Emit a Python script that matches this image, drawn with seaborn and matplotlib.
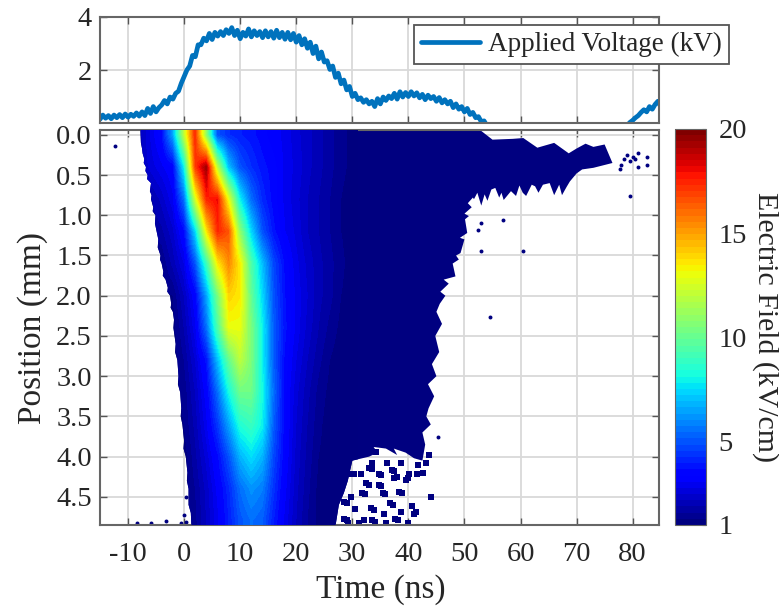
import numpy as np
import pandas as pd
import seaborn as sns
from matplotlib import pyplot as plt

# applied voltage trace (every 0.5 ns from -15 to 54, then the last stretch)
volt_time = [-15, -14.5, -14, -13.5, -13, -12.5, -12, -11.5, -11, -10.5, -10, -9.5, -9, -8.5, -8, -7.5, -7, -6.5,
             -6, -5.5, -5, -4.5, -4, -3.5, -3, -2.5, -2, -1.5, -1, -0.5, 0, 0.5, 1, 1.5, 2, 2.5, 3, 3.5, 4, 4.5,
             5, 5.5, 6, 6.5, 7, 7.5, 8, 8.5, 9, 9.5, 10, 10.5, 11, 11.5, 12, 12.5, 13, 13.5, 14, 14.5, 15, 15.5,
             16, 16.5, 17, 17.5, 18, 18.5, 19, 19.5, 20, 20.5, 21, 21.5, 22, 22.5, 23, 23.5, 24, 24.5, 25, 25.5,
             26, 26.5, 27, 27.5, 28, 28.5, 29, 29.5, 30, 30.5, 31, 31.5, 32, 32.5, 33, 33.5, 34, 34.5, 35, 35.5,
             36, 36.5, 37, 37.5, 38, 38.5, 39, 39.5, 40, 40.5, 41, 41.5, 42, 42.5, 43, 43.5, 44, 44.5, 45, 45.5,
             46, 46.5, 47, 47.5, 48, 48.5, 49, 49.5, 50, 50.5, 51, 51.5, 52, 52.5, 53, 53.5, 54,
             79, 79.5, 80, 80.5, 81, 81.5, 82, 82.5, 83, 83.5, 84, 84.5, 85]
volt_kv = [0.14, 0.3, 0.18, 0.28, 0.16, 0.3, 0.2, 0.32, 0.2, 0.34, 0.22, 0.33, 0.25, 0.38, 0.26, 0.42, 0.28, 0.55,
           0.36, 0.62, 0.42, 0.58, 0.68, 0.85, 0.72, 0.98, 0.9, 1.12, 1.2, 1.5, 1.75, 2.0, 2.15, 2.55, 2.5, 2.95,
           2.95, 3.2, 3.1, 3.38, 3.15, 3.42, 3.28, 3.45, 3.3, 3.52, 3.38, 3.6, 3.3, 3.5, 3.18, 3.42, 3.28, 3.55,
           3.25, 3.48, 3.3, 3.45, 3.22, 3.48, 3.25, 3.45, 3.2, 3.5, 3.22, 3.42, 3.16, 3.42, 3.14, 3.38, 3.05, 3.3,
           2.95, 3.18, 2.82, 3.05, 2.62, 2.9, 2.42, 2.68, 2.3, 2.35, 2.02, 2.15, 1.72, 1.88, 1.48, 1.62, 1.25, 1.38,
           1.0, 1.12, 0.88, 0.95, 0.78, 0.88, 0.72, 0.82, 0.62, 0.92, 0.72, 0.98, 0.85, 1.02, 0.92, 1.12, 0.9, 1.18,
           0.98, 1.15, 1.0, 1.18, 1.02, 1.14, 0.95, 1.08, 0.88, 1.05, 0.92, 1.0, 0.82, 0.96, 0.76, 0.88, 0.72, 0.82,
           0.58, 0.72, 0.52, 0.62, 0.42, 0.55, 0.32, 0.4, 0.2, 0.24, 0.05, 0.08, -0.1,
           -0.1, 0.02, 0.1, 0.2, 0.28, 0.4, 0.5, 0.42, 0.62, 0.52, 0.7, 0.82, 0.62]

# field map values (kV/cm), rows are positions, columns are times
field_time = [-10, -8, -6, -4, -2, 0, 2, 4, 6, 8, 10, 12, 14, 16, 18, 20, 22, 24, 26, 28, 30]
field_pos = [0.0, 0.4, 0.8, 1.2, 1.6, 2.0, 2.4, 2.8, 3.2, 3.6, 4.0, 4.4, 4.8]
field_p00 = [2.0, 2.0, 2.8, 3.6, 6.5, 12.0, 17.5, 11.0, 5.0, 4.3, 4.0, 3.8, 3.5, 3.2, 3.0, 2.6, 2.3, 2.0, 1.7, 1.4, 1.2]
field_p04 = [2.0, 2.0, 2.6, 3.0, 3.4, 8.0, 17.0, 19.5, 12.0, 7.0, 5.0, 4.3, 3.8, 3.5, 3.0, 2.7, 2.3, 2.0, 1.7, 1.4, 1.2]
field_p08 = [1.8, 1.8, 1.8, 2.3, 3.0, 5.5, 12.5, 17.5, 18.0, 13.0, 8.0, 5.5, 4.2, 3.5, 3.0, 2.6, 2.2, 1.9, 1.6, 1.3, 1.1]
field_p12 = [1.6, 1.6, 1.6, 1.8, 2.4, 3.6, 7.5, 13.5, 17.5, 16.5, 11.0, 7.5, 5.0, 3.8, 3.1, 2.7, 2.2, 1.9, 1.6, 1.3, 1.1]
field_p16 = [1.3, 1.3, 1.3, 1.3, 2.0, 2.8, 5.0, 9.0, 13.5, 15.5, 13.5, 9.5, 7.0, 4.8, 3.6, 2.9, 2.4, 2.0, 1.7, 1.4, 1.1]
field_p20 = [1.2, 1.2, 1.2, 1.2, 1.3, 2.2, 3.4, 6.5, 10.5, 14.0, 13.5, 10.0, 7.5, 5.0, 3.7, 3.0, 2.5, 2.0, 1.7, 1.3, 1.1]
field_p24 = [1.1, 1.1, 1.1, 1.1, 1.1, 1.9, 3.0, 5.5, 9.5, 13.0, 13.0, 10.5, 8.0, 5.2, 3.8, 3.0, 2.4, 1.9, 1.5, 1.2, 1.1]
field_p28 = [1.1, 1.1, 1.1, 1.1, 1.1, 1.6, 2.5, 3.8, 7.0, 10.0, 12.0, 10.5, 8.0, 5.2, 3.6, 2.8, 2.2, 1.7, 1.3, 1.1, 1.0]
field_p32 = [1.1, 1.1, 1.1, 1.1, 1.1, 1.4, 2.2, 3.3, 5.5, 8.2, 10.2, 10.2, 8.2, 5.5, 3.5, 2.6, 2.0, 1.5, 1.2, 1.0, 1.0]
field_p36 = [1.1, 1.1, 1.1, 1.1, 1.1, 1.3, 2.0, 3.0, 4.5, 6.5, 8.5, 9.0, 8.0, 5.2, 3.5, 2.5, 1.9, 1.4, 1.1, 1.0, 1.0]
field_p40 = [1.1, 1.1, 1.1, 1.1, 1.1, 1.1, 1.8, 2.6, 3.6, 5.0, 6.8, 7.6, 6.8, 4.8, 3.4, 2.4, 1.8, 1.3, 1.1, 1.0, 1.0]
field_p44 = [1.1, 1.1, 1.1, 1.1, 1.1, 1.1, 1.6, 2.3, 3.2, 4.2, 5.5, 6.2, 5.8, 4.4, 3.2, 2.3, 1.7, 1.2, 1.05, 1.0, 1.0]
field_p48 = [1.1, 1.1, 1.1, 1.1, 1.1, 1.1, 1.5, 2.2, 3.0, 4.0, 5.0, 5.5, 5.2, 4.0, 3.0, 2.2, 1.6, 1.2, 1.0, 1.0, 1.0]

# outline of the measured region (time, position)
edge_time = [-7.8, -7.7, -7.5, -7.4, -7.1, -7.2, -6.8, -6.9, -6.5, -6.6, -5.9, -6.1, -5.8, -5.9, -5.5, -5.6, -5.1,
             -5.2, -4.9, -4.6, -4.7, -4.2, -4.3, -4.0, -3.7, -3.8, -3.3, -2.9, -3.0, -2.5, -2.3, -2.4, -2.0, -1.8,
             -1.9, -1.5, -1.6, -1.2, -1.0, -1.1, -0.7, -0.5, -0.6, -0.3, 0.0, -0.1, 0.3, 0.6, 0.5, 0.8, 0.8, 1.2,
             1.3,
             27.0, 27.6, 28.5, 29.2, 30.0, 33.0, 34.5, 33.8, 36.0, 38.0, 37.4, 39.5, 41.0, 42.5, 43.0, 42.5, 44.0,
             43.2, 43.6, 44.6, 43.5, 45.0, 44.2, 45.5, 44.8, 46.0, 45.0, 45.6, 46.6, 45.7, 47.2, 46.3, 48.4, 47.9,
             49.0, 48.5, 49.3, 50.0, 49.2, 50.5, 50.1, 50.8, 50.0, 51.3, 50.6, 51.5, 51.7, 52.3, 53.0, 53.6, 54.1,
             54.8, 55.5, 56.2, 56.6, 57.0, 58.3, 59.2, 59.8, 60.4, 61.0, 62.0, 62.6, 63.2, 64.0, 65.2, 66.0, 66.9,
             67.4, 68.2, 68.8, 70.0, 71.0, 73.0, 76.4, 75.0, 73.0, 71.6,
             70.0, 68.6, 66.0, 63.0, 60.5, 58.6, 55.0, 52.6, -7.8]
edge_pos = [-0.07, 0.1, 0.17, 0.23, 0.3, 0.35, 0.4, 0.45, 0.5, 0.55, 0.6, 0.7, 0.75, 0.8, 0.9, 0.95, 1.0,
            1.1, 1.2, 1.3, 1.4, 1.5, 1.55, 1.6, 1.7, 1.75, 1.8, 1.9, 1.95, 2.0, 2.1, 2.15, 2.2, 2.3,
            2.4, 2.6, 2.7, 2.8, 3.0, 3.1, 3.2, 3.4, 3.5, 3.6, 3.8, 3.9, 4.0, 4.2, 4.3, 4.4, 4.6, 4.7,
            4.86,
            4.86, 4.6, 4.45, 4.3, 4.05, 4.0, 3.95, 3.88, 3.9, 3.98, 3.9, 3.95, 4.02, 4.05, 3.85, 3.7, 3.6,
            3.5, 3.4, 3.25, 3.1, 3.0, 2.85, 2.7, 2.5, 2.35, 2.2, 2.1, 2.0, 1.95, 1.85, 1.8, 1.76, 1.6,
            1.55, 1.5, 1.47, 1.3, 1.28, 1.22, 1.05, 1.01, 0.98, 0.9, 0.85, 0.78, 0.8, 0.72, 0.88, 0.74, 0.82,
            0.68, 0.66, 0.78, 0.72, 0.81, 0.7, 0.76, 0.63, 0.72, 0.76, 0.62, 0.64, 0.72, 0.62, 0.6, 0.75, 0.62,
            0.75, 0.65, 0.58, 0.48, 0.43, 0.41, 0.35, 0.12, 0.15, 0.11,
            0.17, 0.23, 0.1, 0.16, 0.04, 0.05, 0.06, -0.07, -0.07]

# isolated pixels outside the main region
speck_time = [-12.3, 79.5, 60.5, 54.6, 56.9, 52.9, 52.4, 53.0, 78.0, 78.5, 79.0, 80.0, 81.0, 82.5, 82.5, 81.0, 79.5,
              80.5, 77.8, 45.2, 0.0, 0.3, -0.6, -5.9, -3.2, -8.4, 0.4]
speck_pos = [0.14, 0.755, 1.44, 2.27, 1.06, 1.09, 1.18, 1.45, 0.38, 0.3, 0.25, 0.27, 0.22, 0.28, 0.38, 0.4, 0.32,
             0.3, 0.42, 3.75, 4.72, 4.81, 4.82, 4.83, 4.8, 4.82, 4.5]

# the patchy stretch at the bottom
patch_time = [33.0, 33.5, 34.8, 35.2, 37.1, 37.5, 32.4, 32.9, 34.8, 35.2, 37.4, 37.9, 31.8, 32.2, 35.4, 35.9, 38.3,
              38.8, 40.1, 41.6, 39.5, 39.9, 36.8, 37.2, 33.3, 33.8, 35.7, 41.0, 41.4, 33.6, 34.1, 37.7, 38.1, 28.5,
              29.0, 28.5, 29.0, 29.4, 30.3, 40.7, 38.6, 32.1, 31.5, 34.2, 33.6, 36.2, 38.6, 43.1, 41.8, 43.7, 29.8,
              29.3, 30.4, 31.2, 36.0, 40.0, 42.6, 44.0]
patch_pos = [4.146, 4.16, 4.21, 4.23, 4.166, 4.18, 4.33, 4.35, 4.35, 4.37, 4.27, 4.25, 4.457, 4.47, 4.457, 4.47, 4.436,
             4.45, 4.21, 4.21, 4.29, 4.27, 4.58, 4.6, 4.64, 4.66, 4.71, 4.71, 4.69, 4.79, 4.81, 4.77, 4.79, 4.56,
             4.58, 4.77, 4.79, 4.21, 4.21, 4.62, 4.685, 4.79, 4.21, 3.94, 4.08, 4.08, 4.08, 4.08, 4.1, 3.98, 4.5,
             4.82, 4.65, 4.82, 4.82, 4.82, 4.2, 4.5]

tick_time = [-10, 0, 10, 20, 30, 40, 50, 60, 70, 80]
tick_pos = [0.0, 0.5, 1.0, 1.5, 2.0, 2.5, 3.0, 3.5, 4.0, 4.5]
tick_field = [1, 5, 10, 15, 20]

sns.set_style("ticks")
plt.rcParams['font.family'] = ['Liberation Serif', 'DejaVu Serif']
plt.rcParams['axes.unicode_minus'] = False
plt.rcParams['text.color'] = '#262626'
plt.rcParams['axes.labelcolor'] = '#262626'
plt.rcParams['xtick.color'] = '#262626'
plt.rcParams['ytick.color'] = '#262626'

W, H = 779, 607
fig = plt.figure(figsize=(W / 100, H / 100), dpi=100)
ax_v = fig.add_axes([100 / W, 1 - 123 / H, 559 / W, 106 / H])
ax = fig.add_axes([100 / W, 1 - 525 / H, 559 / W, 395 / H])
cax = fig.add_axes([675 / W, 1 - 525 / H, 31 / W, 396 / H])

for a in (ax_v, ax):
    a.grid(True, color='#d9d9d9', lw=1.3)
    a.set_axisbelow(True)
    a.tick_params(direction='in', length=5, width=1, top=True, right=True, color='#555555', labelsize=20.5, pad=6)
    for s in a.spines.values():
        s.set_color('#666666')
        s.set_linewidth(1.5)
ax.tick_params(axis='x', pad=12)

# top panel
sns.lineplot(x=volt_time, y=volt_kv, ax=ax_v, color='#0072BD', lw=3.4, errorbar=None, sort=False,
             label='Applied Voltage (kV)')
ax_v.set_xlim(-15, 84.7)
ax_v.set_ylim(0, 4)
ax_v.set_xticks(tick_time)
ax_v.set_xticklabels([])
ax_v.set_yticks([2, 4])
ax_v.set_xlabel('')
ax_v.set_ylabel('')
leg = ax_v.legend(loc='upper left', bbox_to_anchor=(314 / 559, 0.92), fontsize=19.5, fancybox=False, framealpha=1,
                  edgecolor='#555555', handlelength=2.2, borderaxespad=0, borderpad=0.25, handletextpad=0.3)
leg.set_clip_on(False)
leg.get_frame().set_linewidth(1.3)

# field map
field = pd.DataFrame([field_p00, field_p04, field_p08, field_p12, field_p16, field_p20, field_p24, field_p28,
                      field_p32, field_p36, field_p40, field_p44, field_p48], index=field_pos, columns=field_time)
jet = plt.get_cmap('jet', 64)
im = ax.imshow(field.values, cmap=jet, vmin=1, vmax=20, aspect='auto', interpolation='bilinear', zorder=3,
               extent=[field_time[0] - 1, field_time[-1] + 1, field_pos[-1] + 0.2, field_pos[0] - 0.2])
region = ax.fill(edge_time, edge_pos, color=jet(0), lw=0, zorder=2)[0]
im.set_clip_path(region)
sns.scatterplot(x=speck_time, y=speck_pos, ax=ax, color=jet(0), s=8, linewidth=0, zorder=2)
sns.scatterplot(x=patch_time, y=patch_pos, ax=ax, color=jet(0), s=24, linewidth=0, marker='s', zorder=2)

ax.set_xlim(-15, 84.7)
ax.set_ylim(4.85, -0.06)
ax.set_xticks(tick_time)
ax.set_yticks(tick_pos)
ax.set_yticklabels([f'{p:.1f}' for p in tick_pos])
ax.set_xlabel('Time (ns)', fontsize=24)
ax.set_ylabel('Position (mm)', fontsize=24)
ax.xaxis.set_label_coords(0.503, -0.125)
ax.yaxis.set_label_coords(-0.093, 0.5)

cb = fig.colorbar(im, cax=cax, ticks=tick_field)
cb.ax.tick_params(direction='in', length=3, labelsize=20.5, color='#555555', pad=9)
cb.outline.set_edgecolor('#666666')
cb.set_label('Electric Field (kV/cm)', fontsize=21.5, rotation=270, labelpad=23)

fig.savefig('out.png', dpi=100)
